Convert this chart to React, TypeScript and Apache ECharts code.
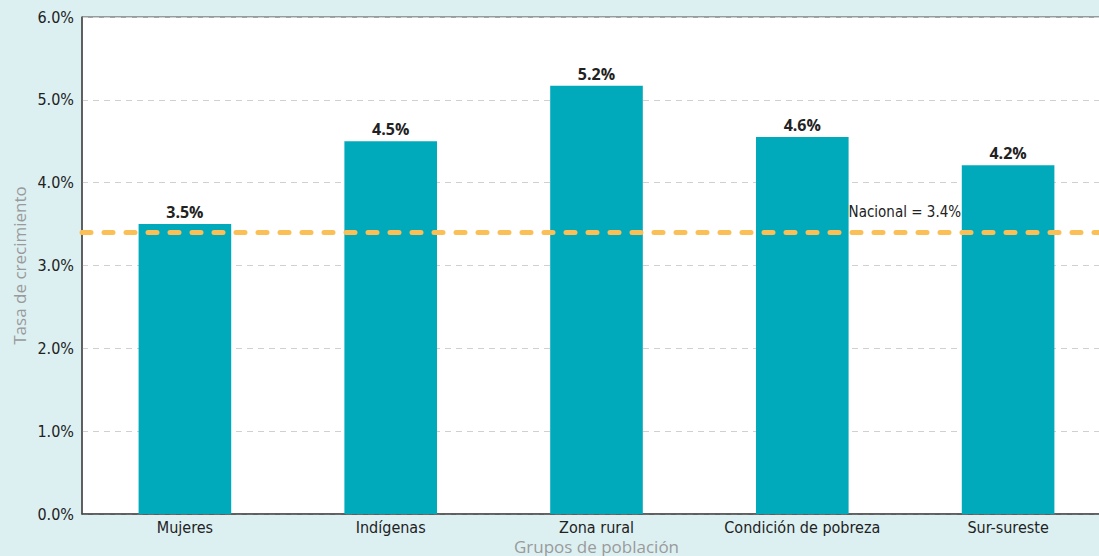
import React, { useEffect, useRef } from "react";
import * as echarts from "echarts";

const categories = ["Mujeres", "Indígenas", "Zona rural", "Condición de pobreza", "Sur-sureste"];
const values = [3.5, 4.5, 5.17, 4.55, 4.21];
const valueLabels = ["3.5%", "4.5%", "5.2%", "4.6%", "4.2%"];
const nationalValue = 3.4;
const nationalLabel = "Nacional = 3.4%";
const yTicks = [0, 1, 2, 3, 4, 5, 6];

const condensed = "'Liberation Sans Narrow', 'DejaVu Sans Condensed', 'Roboto Condensed', sans-serif";
const rounded = "'Open Sans', Lato, sans-serif";

export default function App() {
  const ref = useRef<HTMLDivElement>(null);
  useEffect(() => {
    if (!ref.current) return;
    const chart = echarts.init(ref.current, null, { renderer: "svg" });
    chart.setOption({
      animation: false,
      backgroundColor: "#dcf0f2",
      grid: {
        left: 82,
        top: 17,
        right: 0,
        bottom: 42,
        containLabel: false,
        outerBoundsMode: "none",
        show: true,
        backgroundColor: "#ffffff",
        borderColor: "#4a4a4a",
        borderWidth: 1,
      },
      xAxis: {
        type: "category",
        data: categories,
        name: "Grupos de población",
        nameLocation: "middle",
        nameGap: 23,
        nameMoveOverlap: false,
        nameTextStyle: { color: "#9a9a9a", fontSize: 17, fontFamily: rounded, lineHeight: 18 },
        axisLine: { show: true, lineStyle: { color: "#4a4a4a", width: 1.5 } },
        axisTick: { show: false },
        axisLabel: { color: "#222", fontSize: 16, fontFamily: condensed, margin: 5 },
      },
      yAxis: {
        type: "value",
        min: 0,
        max: 6,
        interval: 1,
        name: "Tasa de crecimiento",
        nameLocation: "middle",
        nameGap: 54,
        nameMoveOverlap: false,
        nameTextStyle: { color: "#9a9a9a", fontSize: 17, fontFamily: rounded },
        axisLine: { show: true, lineStyle: { color: "#4a4a4a", width: 1.5 } },
        axisTick: { show: false },
        axisLabel: {
          color: "#222",
          fontSize: 16,
          fontFamily: condensed,
          margin: 8,
          formatter: (v: number) => (yTicks.includes(v) ? v.toFixed(1) + "%" : ""),
        },
        splitLine: { show: true, lineStyle: { color: "#d0d0d0", type: [6, 5], width: 1 } },
      },
      series: [
        {
          type: "bar",
          data: values,
          barWidth: "45%",
          itemStyle: { color: "#00aabb" },
          label: {
            show: true,
            position: "top",
            distance: 4,
            color: "#222",
            fontSize: 16,
            fontWeight: "bold",
            fontFamily: rounded,
            formatter: (p: any) => valueLabels[p.dataIndex],
          },
          markLine: {
            silent: true,
            symbol: "none",
            label: { show: false },
            lineStyle: { color: "#fbbf57", width: 5, type: [9, 13], cap: "round" },
            data: [{ yAxis: nationalValue }],
          },
          markPoint: {
            silent: true,
            symbol: "rect",
            symbolSize: 0,
            data: [{ coord: [categories[4], nationalValue] }],
            label: {
              show: true,
              formatter: nationalLabel,
              position: [-47, -20],
              align: "right",
              verticalAlign: "middle",
              color: "#222",
              fontSize: 15,
              fontFamily: condensed,
            },
          },
        },
      ],
    });
    return () => chart.dispose();
  }, []);
  return <div ref={ref} style={{ position: "fixed", left: 0, top: 0, width: 1111, height: 556 }} />;
}
